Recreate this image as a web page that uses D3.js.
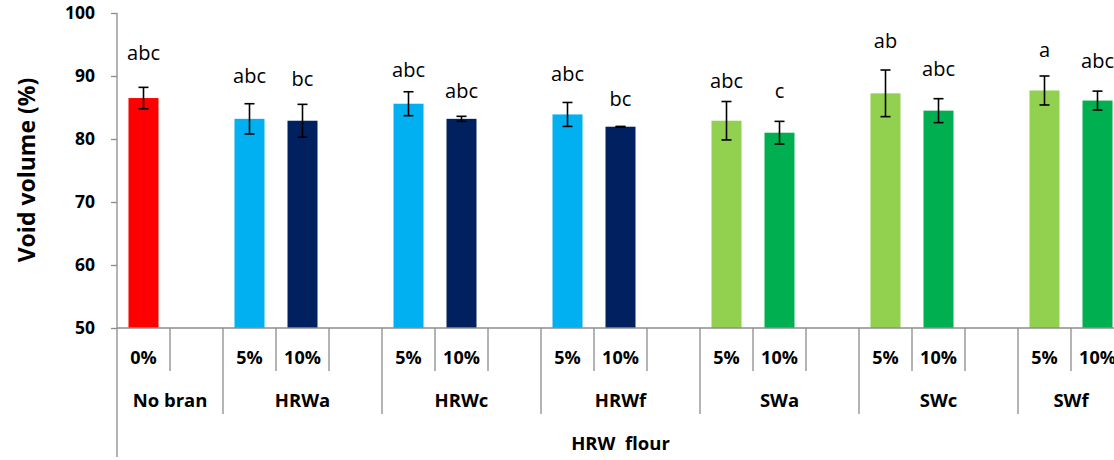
<!DOCTYPE html>
<html>
<head>
<meta charset="utf-8">
<script src="https://cdn.jsdelivr.net/npm/d3@7/dist/d3.min.js"></script>
<style>
  html, body { margin: 0; padding: 0; background: #fff; overflow: hidden; }
  svg { display: block; }
  text { font-family: "Open Sans", "DejaVu Sans", sans-serif; fill: #000; }
</style>
</head>
<body>
<svg id="chart" width="1114" height="460"></svg>
<script>
// Bran source groups and the addition levels shown under each (blank = spacer slot)
const groups = ["No bran", "HRWa", "HRWc", "HRWf", "SWa", "SWc", "SWf"];
const groupLevels = [
  ["0%", ""],
  ["5%", "10%", ""],
  ["5%", "10%", ""],
  ["5%", "10%", ""],
  ["5%", "10%", ""],
  ["5%", "10%", ""],
  ["5%", "10%"]
];
const flourLabel = "HRW  flour";

// Measured bars: group, level, mean void volume (%), standard deviation, significance letters
const barGroup = ["No bran", "HRWa", "HRWa", "HRWc", "HRWc", "HRWf", "HRWf", "SWa", "SWa", "SWc", "SWc", "SWf", "SWf"];
const barLevel = ["0%", "5%", "10%", "5%", "10%", "5%", "10%", "5%", "10%", "5%", "10%", "5%", "10%"];
const voidVolume = [86.5, 83.2, 82.9, 85.6, 83.2, 83.9, 81.95, 82.9, 81.0, 87.25, 84.5, 87.7, 86.1];
const voidSD = [1.7, 2.4, 2.6, 1.9, 0.4, 1.9, 0.05, 3.05, 1.8, 3.7, 1.9, 2.3, 1.5];
const letters = ["abc", "abc", "bc", "abc", "abc", "abc", "bc", "abc", "c", "ab", "abc", "a", "abc"];
// height (in % void volume) of each letter annotation's baseline
const letterAt = [92.55, 88.85, 88.45, 89.8, 86.55, 89.2, 85.3, 88.05, 86.55, 94.5, 90.05, 92.95, 91.3];

const yTicks = [50, 60, 70, 80, 90, 100];

// colours: no bran in red, hard red wheat in blues, soft wheat in greens
function barColour(group, level) {
  if (group === "No bran") return "#FF0000";
  const soft = group.startsWith("SW");
  if (level === "5%") return soft ? "#92D050" : "#00B0F0";
  return soft ? "#00B050" : "#002060";
}

const svg = d3.select("#chart");
const axisGrey = "#8c8c8c";

// slots along the category axis
const slots = [];
groups.forEach((g, gi) => groupLevels[gi].forEach((lv, li) => slots.push({ key: g + "|" + li, group: g, level: lv })));

const plotLeft = 117, plotRight = 1124, plotTop = 13, plotBottom = 328;
const x = d3.scaleBand().domain(slots.map(s => s.key)).range([plotLeft, plotRight]).padding(0);
const y = d3.scaleLinear().domain([50, 100]).range([plotBottom, plotTop]);

const bars = voidVolume.map((v, i) => {
  const li = groupLevels[groups.indexOf(barGroup[i])].indexOf(barLevel[i]);
  return { key: barGroup[i] + "|" + li, group: barGroup[i], level: barLevel[i], v, sd: voidSD[i], letter: letters[i], at: letterAt[i] };
});

const barW = x.bandwidth() * 0.566;
const cx = d => x(d.key) + x.bandwidth() / 2;

// bars
svg.append("g").selectAll("rect").data(bars).join("rect")
  .attr("x", d => cx(d) - barW / 2)
  .attr("width", barW)
  .attr("y", d => y(d.v))
  .attr("height", d => y(50) - y(d.v))
  .attr("fill", d => barColour(d.group, d.level));

// error bars
const eb = svg.append("g").attr("stroke", "#000").attr("stroke-width", 1.6).attr("fill", "none");
bars.forEach(d => {
  const t = y(d.v + d.sd), b = y(d.v - d.sd), c = cx(d), w = 5;
  eb.append("line").attr("x1", c).attr("x2", c).attr("y1", t).attr("y2", b);
  eb.append("line").attr("x1", c - w).attr("x2", c + w).attr("y1", t).attr("y2", t);
  eb.append("line").attr("x1", c - w).attr("x2", c + w).attr("y1", b).attr("y2", b);
});

// significance letters
svg.append("g").selectAll("text").data(bars).join("text")
  .attr("x", d => cx(d))
  .attr("y", d => y(d.at))
  .attr("text-anchor", "middle")
  .style("font-size", "20px")
  .text(d => d.letter);

// y axis
const yAxis = svg.append("g").attr("transform", `translate(${plotLeft},0)`)
  .call(d3.axisLeft(y).tickValues(yTicks).tickSize(6).tickPadding(16).tickFormat(d3.format("d")));
yAxis.select(".domain").remove();
yAxis.selectAll(".tick line").attr("stroke", axisGrey).attr("stroke-width", 1.3);
yAxis.selectAll(".tick text")
  .style("font-size", "17.5px").style("font-weight", "bold")
  .style("font-family", "'Open Sans', sans-serif").attr("fill", "#000");

// axis lines
svg.append("line").attr("x1", plotLeft).attr("x2", plotLeft).attr("y1", plotTop).attr("y2", 457)
  .attr("stroke", axisGrey).attr("stroke-width", 1.3);
svg.append("line").attr("x1", plotLeft).attr("x2", plotRight).attr("y1", plotBottom).attr("y2", plotBottom)
  .attr("stroke", axisGrey).attr("stroke-width", 1.3);

// category axis: level row, group row, flour row
const row1 = 371, row2 = 414;
const sep = svg.append("g").attr("stroke", axisGrey).attr("stroke-width", 1.3);
let offset = 0;
const groupSpans = groups.map((g, gi) => {
  const first = slots[offset], last = slots[offset + groupLevels[gi].length - 1];
  offset += groupLevels[gi].length;
  return { g, x0: x(first.key), x1: x(last.key) + x.bandwidth() };
});
slots.forEach((s, i) => {
  if (i === 0) return;
  const xx = x(s.key);
  const isGroupEdge = groupSpans.some(gs => Math.abs(gs.x0 - xx) < 0.5);
  sep.append("line").attr("x1", xx).attr("x2", xx).attr("y1", plotBottom).attr("y2", isGroupEdge ? row2 : row1);
});
sep.append("line").attr("x1", plotRight).attr("x2", plotRight).attr("y1", plotBottom).attr("y2", row2);

svg.append("g").selectAll("text").data(slots.filter(s => s.level)).join("text")
  .attr("x", s => x(s.key) + x.bandwidth() / 2)
  .attr("y", 364)
  .attr("text-anchor", "middle")
  .style("font-size", "18px").style("font-weight", "bold")
  .text(s => s.level);

svg.append("g").selectAll("text").data(groupSpans).join("text")
  .attr("x", d => (d.x0 + d.x1) / 2)
  .attr("y", 407)
  .attr("text-anchor", "middle")
  .style("font-size", "18.5px").style("font-weight", "bold")
  .text(d => d.g);

svg.append("text")
  .attr("x", (plotLeft + plotRight) / 2)
  .attr("y", 450)
  .attr("text-anchor", "middle")
  .attr("xml:space", "preserve")
  .style("white-space", "pre")
  .style("font-size", "18.5px").style("font-weight", "bold")
  .text(flourLabel);

// y axis title
svg.append("text")
  .attr("transform", `translate(35,170) rotate(-90)`)
  .attr("text-anchor", "middle")
  .style("font-size", "23px").style("font-weight", "bold")
  .text("Void volume (%)");
</script>
</body>
</html>
